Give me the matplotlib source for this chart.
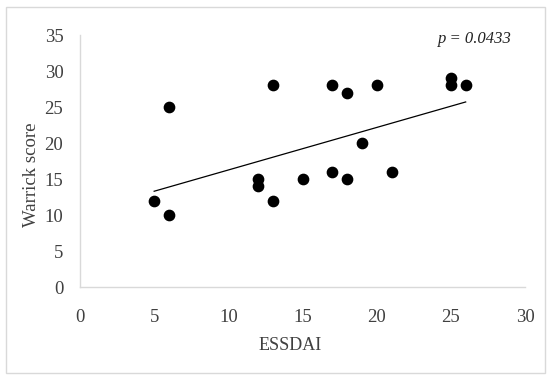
import numpy as np
import matplotlib
matplotlib.use("Agg")
import matplotlib.pyplot as plt
from matplotlib.patches import Rectangle

essdai = [5, 6, 6, 12, 12, 13, 13, 15, 17, 17, 18, 18, 19, 20, 21, 25, 25, 26]
warrick = [12, 25, 10, 15, 14, 28, 12, 15, 28, 16, 27, 15, 20, 28, 16, 29, 28, 28]
trend_x = [5, 26]
trend_y = [13.3, 25.7]
x_ticks = [0, 5, 10, 15, 20, 25, 30]
y_ticks = [0, 5, 10, 15, 20, 25, 30, 35]
p_label = "p = 0.0433"

plt.rcParams['font.family'] = ['Liberation Serif', 'DejaVu Serif']

fig = plt.figure(figsize=(5.5, 3.8), dpi=100)
fig.patches.append(Rectangle((6/550, 7/380), 539/550, 366/380, transform=fig.transFigure,
                             fill=False, edgecolor='#d9d9d9', linewidth=1))
ax = fig.add_axes([80/550, 1-287/380, 445/550, 252/380])

ax.plot(trend_x, trend_y, color='black', linewidth=0.9)
ax.scatter(essdai, warrick, s=55, color='black', zorder=3)

ax.set_xlim(0, 30)
ax.set_ylim(0, 35)
ax.set_xticks(x_ticks)
ax.set_yticks(y_ticks)
ax.tick_params(length=0, labelsize=13.5, colors='#404040')
ax.tick_params(axis='x', pad=16)
ax.tick_params(axis='y', pad=12)
for s in ['top', 'right']:
    ax.spines[s].set_visible(False)
for s in ['left', 'bottom']:
    ax.spines[s].set_color('#d9d9d9')
    ax.spines[s].set_linewidth(1)

ax.set_xlabel('ESSDAI', fontsize=13, color='#404040')
ax.xaxis.set_label_coords((290-80)/445, -(345-287)/252)
ax.xaxis.label.set_va('center')
ax.set_ylabel('Warrick score', fontsize=13.5, color='#404040')
ax.yaxis.set_label_coords((31-80)/445, (287-175)/252)
ax.yaxis.label.set_va('center')
ax.text(29.1, 34.4, p_label, fontsize=12, style='italic', ha='right', va='center', color='#222222')

fig.savefig('out.png', dpi=100)
